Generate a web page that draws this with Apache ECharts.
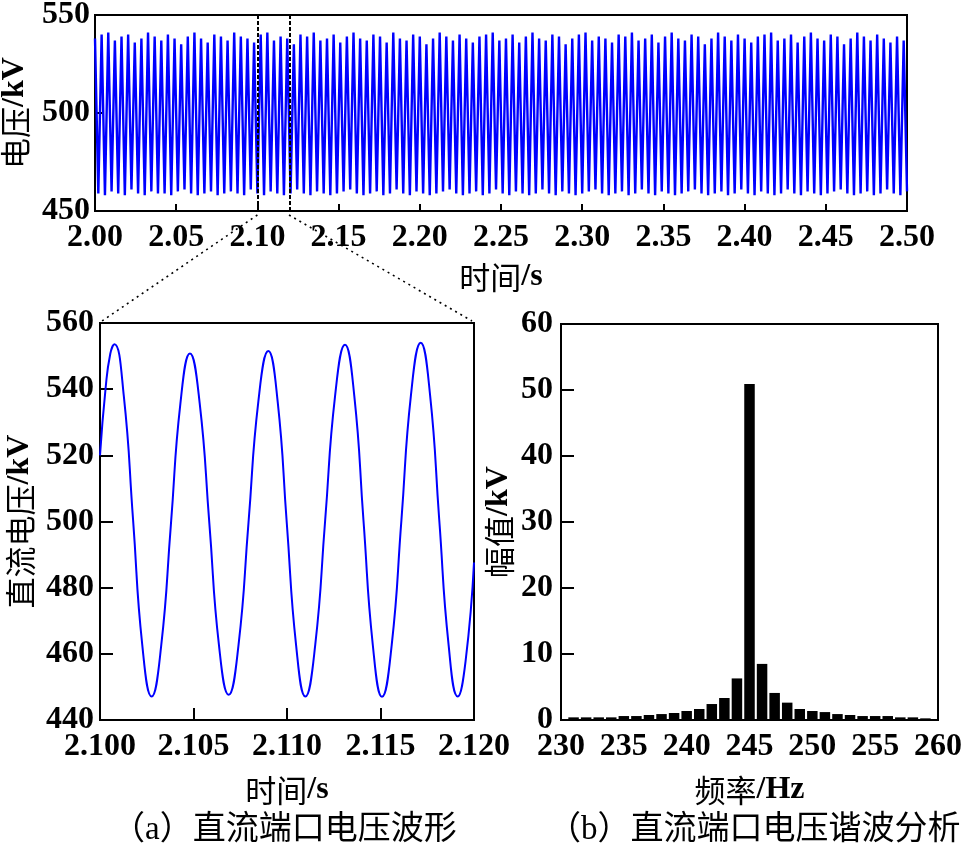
<!DOCTYPE html>
<html><head><meta charset="utf-8">
<script src="https://cdn.jsdelivr.net/npm/echarts@6/dist/echarts.min.js"></script>
<style>html,body{margin:0;padding:0;background:#fff}#c{width:964px;height:849px}</style>
</head><body><div id="c"></div>
<script>
// ---- top panel: 2.00-2.50 s voltage (peak / trough of each cycle) ----
const topStart = 2.0;
const topHalfPeriod = 1 / 490;
const topPeaks = [
538,540,541,537,539,540,536,538,541,539,537,540,538,535,539,541,538,536,540,539,
537,541,539,538,536,540,541,537,539,538,535,540,539,541,537,538,540,536,539,541,
538,537,540,539,536,541,538,537,540,539,535,538,541,539,537,540,538,536,539,540,
541,537,538,540,536,539,541,538,537,540,539,535,538,540,541,537,539,538,536,540,
539,541,537,538,540,536,539,541,538,537,540,539,535,538,541,539,537,540,538,536,
539,540,541,537,538,540,536,539,541,538,537,540,539,535,538,541,539,537,540,538,536,539,537];
const topTroughs = [
459,458,460,459,458,461,459,458,460,459,459,458,460,461,459,458,459,460,458,459,
460,459,458,461,459,458,460,459,458,459,461,459,458,460,459,458,459,460,461,459,
458,459,460,458,459,461,459,458,460,459,458,459,460,461,459,458,459,460,458,459,
461,459,458,460,459,458,459,461,459,458,460,459,458,459,460,461,459,458,459,460,
458,459,461,459,458,460,459,458,459,460,461,459,458,459,460,458,459,461,459,458,
460,459,458,459,461,459,458,460,459,458,459,460,461,459,458,459,460,458,459,461,459,458,460];
const topXTicks = [2.00, 2.50, 0.05];   // min, max, step
const topYTicks = [450, 550, 50];
const zoomMarks = [2.100, 2.117];       // dashed window in top panel

// ---- (a) zoomed waveform 2.100-2.120 s ----
const zoomTimes = [2.10000,2.10030,2.10055,2.10077,2.10127,2.10177,2.10226,2.10276,2.10327,2.10379,
2.10430,2.10481,2.10533,2.10585,2.10636,2.10688,2.10741,2.10794,2.10847,2.10900,2.10950,2.10999,
2.11049,2.11098,2.11151,2.11204,2.11257,2.11310,2.11360,2.11409,2.11459,2.11508,2.11560,2.11612,
2.11663,2.11715,2.11765,2.11814,2.11864,2.11913,2.11955,2.12000];
const zoomValues = [520.0,540.3,550.7,553.6,538.1,500.4,462.7,447.1,462.3,499.0,
535.7,550.8,535.8,499.3,462.7,447.6,462.8,499.6,536.4,551.5,536.3,499.4,
462.4,447.1,462.7,500.3,537.9,553.4,537.9,500.3,462.6,447.0,462.7,500.5,
538.3,554.0,538.3,500.6,462.8,447.1,457.8,487.6];
const zoomXTicks = [2.100, 2.120, 0.005];
const zoomYTicks = [440, 560, 20];

// ---- (b) harmonic spectrum ----
const freqs = [231,232,233,234,235,236,237,238,239,240,241,242,243,244,245,
246,247,248,249,250,251,252,253,254,255,256,257,258,259];
const amps = [0.4,0.4,0.4,0.4,0.6,0.6,0.76,0.9,1.06,1.36,1.67,2.42,3.33,6.3,50.9,
8.5,4.1,2.63,1.67,1.36,1.2,0.9,0.76,0.6,0.6,0.6,0.4,0.4,0.25];
const specXTicks = [230, 260, 5];
const specYTicks = [0, 60, 10];

const axisNames = {
  topX: ['时间', '/s'], topY: ['电压', '/kV'],
  zoomX: ['时间', '/s'], zoomY: ['直流电压', '/kV'],
  specX: ['频率', '/Hz'], specY: ['幅值', '/kV']
};
const captions = ['（a）直流端口电压波形', '（b）直流端口电压谐波分析'];

const FONT = "'Liberation Serif','Noto Sans CJK SC',serif";
const txt = {fontFamily: FONT, fontSize: 32, color: '#000', fontWeight: 'bold'};
const nameStyle = {
  fontFamily: FONT, fontSize: 32, color: '#000',
  rich: {
    c: {fontFamily: "'Noto Sans CJK SC',sans-serif", fontSize: 31, color: '#000'},
    l: {fontFamily: "'Liberation Serif',serif", fontSize: 32, fontWeight: 'bold', color: '#000'}
  }
};
const nm = p => '{c|' + p[0] + '}{l|' + p[1] + '}';

const topData = [];
for (let i = 0; i < topPeaks.length + topTroughs.length; i++) {
  const v = (i % 2 === 0) ? topPeaks[i / 2] : topTroughs[(i - 1) / 2];
  topData.push([topStart + i * topHalfPeriod, v]);
}
const zoomData = zoomTimes.map((t, i) => [t, zoomValues[i]]);
const specData = freqs.map((f, i) => [f, amps[i]]);

function axis(gridIndex, ticks, opts) {
  return Object.assign({
    type: 'value', gridIndex,
    min: ticks[0], max: ticks[1], interval: ticks[2],
    axisLine: {show: true, onZero: false, lineStyle: {color: '#000', width: 2}},
    axisTick: {show: true, inside: true, length: 7, lineStyle: {color: '#000', width: 2}},
    splitLine: {show: false},
    nameLocation: 'middle',
    nameTextStyle: nameStyle,
    axisLabel: Object.assign({}, txt)
  }, opts);
}

const gridBase = {show: true, borderColor: '#000', borderWidth: 2, containLabel: false, outerBoundsMode: 'none'};
const chart = echarts.init(document.getElementById('c'), null, {renderer: 'canvas'});
const option = {
  animation: false,
  backgroundColor: '#fff',
  grid: [
    Object.assign({left: 95, top: 15, width: 812, height: 196}, gridBase),
    Object.assign({left: 100, top: 323, width: 374, height: 397}, gridBase),
    Object.assign({left: 561, top: 324, width: 377, height: 396}, gridBase)
  ],
  xAxis: [
    axis(0, topXTicks, {name: nm(axisNames.topX), nameGap: 50,
      axisLabel: Object.assign({}, txt, {margin: 11, formatter: v => v.toFixed(2)})}),
    axis(1, zoomXTicks, {name: nm(axisNames.zoomX), nameGap: 54,
      axisTick: {show: true, inside: true, length: 12, lineStyle: {color: '#000', width: 2}},
      axisLabel: Object.assign({}, txt, {margin: 11, formatter: v => v.toFixed(3)})}),
    axis(2, specXTicks, {name: nm(axisNames.specX), nameGap: 54, axisTick: {show: false},
      axisLabel: Object.assign({}, txt, {margin: 11})})
  ],
  yAxis: [
    axis(0, topYTicks, {name: nm(axisNames.topY), nameGap: 62,
      axisLabel: Object.assign({}, txt, {margin: 5})}),
    axis(1, zoomYTicks, {name: nm(axisNames.zoomY), nameGap: 64,
      axisTick: {show: true, inside: true, length: 13, lineStyle: {color: '#000', width: 2}},
      axisLabel: Object.assign({}, txt, {margin: 6})}),
    axis(2, specYTicks, {name: nm(axisNames.specY), nameGap: 46,
      axisTick: {show: true, inside: true, length: 13, lineStyle: {color: '#000', width: 2}},
      axisLabel: Object.assign({}, txt, {margin: 8})})
  ],
  series: [
    {type: 'line', xAxisIndex: 0, yAxisIndex: 0, data: topData, showSymbol: false,
     lineStyle: {color: '#0000ff', width: 2.4}, silent: true,
     markLine: {silent: true, symbol: 'none', label: {show: false},
       lineStyle: {color: '#000', type: [4, 2], width: 2},
       data: zoomMarks.map(x => ({xAxis: x}))}},
    {type: 'line', xAxisIndex: 1, yAxisIndex: 1, data: zoomData, showSymbol: false, smooth: true,
     lineStyle: {color: '#0000ff', width: 2}, silent: true},
    {type: 'bar', xAxisIndex: 2, yAxisIndex: 2, data: specData, barWidth: 10.5,
     itemStyle: {color: '#000'}, silent: true}
  ]
};
chart.setOption(option);

// connector lines from the marked window to panel (a)
const a0 = chart.convertToPixel({xAxisIndex: 0, yAxisIndex: 0}, [zoomMarks[0], topYTicks[0]]);
const a1 = chart.convertToPixel({xAxisIndex: 0, yAxisIndex: 0}, [zoomMarks[1], topYTicks[0]]);
const b0 = chart.convertToPixel({xAxisIndex: 1, yAxisIndex: 1}, [zoomXTicks[0], zoomYTicks[1]]);
const b1 = chart.convertToPixel({xAxisIndex: 1, yAxisIndex: 1}, [zoomXTicks[1], zoomYTicks[1]]);
const dot = {stroke: '#000', lineWidth: 1.6, lineDash: [2, 4]};
const capFont = '33px ' + FONT;
chart.setOption({
  graphic: [
    {type: 'line', shape: {x1: a0[0], y1: a0[1] + 4, x2: b0[0] + 2, y2: b0[1] - 2}, style: dot, silent: true},
    {type: 'line', shape: {x1: a1[0] + 4, y1: a1[1] + 4, x2: b1[0] - 2, y2: b1[1] - 2}, style: dot, silent: true},
    {type: 'text', x: 112, y: 830, style: {text: captions[0], font: capFont, fill: '#000', align: 'left', verticalAlign: 'middle'}},
    {type: 'text', x: 548, y: 830, style: {text: captions[1], font: capFont, fill: '#000', align: 'left', verticalAlign: 'middle'}}
  ]
});
</script>
</body></html>
